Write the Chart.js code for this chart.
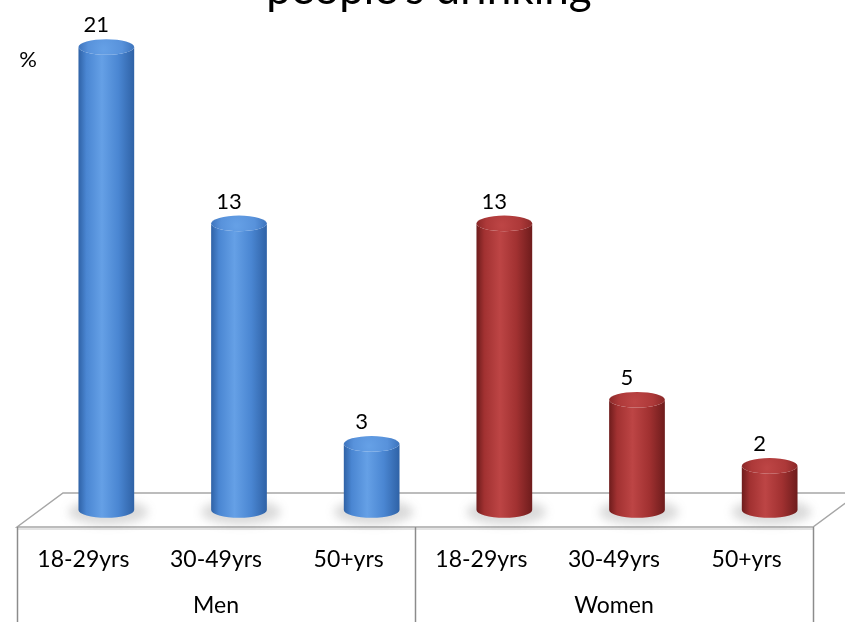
<!DOCTYPE html>
<html>
<head>
<meta charset="utf-8">
<script src="https://cdn.jsdelivr.net/npm/chart.js@4.4.1/dist/chart.umd.min.js"></script>
<style>
  html, body { margin: 0; padding: 0; background: #ffffff; }
  #wrap { width: 845px; height: 622px; }
</style>
</head>
<body>
<div id="wrap"><canvas id="c" width="845" height="622"></canvas></div>
<script>
// ---- data ----
const chartTitle = "people's drinking";
const unitLabel = '%';
const ageGroups = ['18-29yrs', '30-49yrs', '50+yrs', '18-29yrs', '30-49yrs', '50+yrs'];
const sexGroups = ['Men', 'Women'];
const menValues = [21, 13, 3];
const womenValues = [13, 5, 2];

// ---- look ----
const FONT = 'Lato, "Open Sans", sans-serif';
const FLOOR_DX = 23;   // half of the floor depth, horizontally
const FLOOR_DY = 17;   // half of the floor depth, vertically
const palettes = {
  Men:   { edge: '#2f62a6', body: '#4a86d2', light: '#65a0e6', cap: '#5892db', rim: '#3d74bd' },
  Women: { edge: '#6e1c1c', body: '#a13131', light: '#bd4545', cap: '#ad3939', rim: '#8a2828' }
};

// Men occupy the first three categories, Women the last three
const menSeries = [...menValues, ...womenValues.map(() => null)];
const womenSeries = [...menValues.map(() => null), ...womenValues];

function drawCylinder(ctx, x, top, base, w, pal) {
  const rx = w / 2;
  const ry = w * 0.14;

  // soft shadow on the floor
  ctx.save();
  ctx.filter = 'blur(5px)';
  ctx.fillStyle = 'rgba(70,70,70,0.20)';
  ctx.beginPath();
  ctx.ellipse(x + 2, base + 2, rx + 12, ry + 5, 0, 0, Math.PI * 2);
  ctx.fill();
  ctx.restore();

  // body
  const g = ctx.createLinearGradient(x - rx, 0, x + rx, 0);
  g.addColorStop(0, pal.edge);
  g.addColorStop(0.14, pal.body);
  g.addColorStop(0.42, pal.light);
  g.addColorStop(0.72, pal.body);
  g.addColorStop(1, pal.edge);
  ctx.save();
  ctx.fillStyle = g;
  ctx.beginPath();
  ctx.moveTo(x - rx, top);
  ctx.lineTo(x - rx, base);
  ctx.ellipse(x, base, rx, ry, 0, Math.PI, 0, true);
  ctx.lineTo(x + rx, top);
  ctx.ellipse(x, top, rx, ry, 0, 0, Math.PI, false);
  ctx.closePath();
  ctx.fill();

  // cap
  const cg = ctx.createRadialGradient(x - rx * 0.1, top + ry * 0.3, 1, x, top, rx);
  cg.addColorStop(0, pal.light);
  cg.addColorStop(0.6, pal.cap);
  cg.addColorStop(1, pal.rim);
  ctx.fillStyle = cg;
  ctx.beginPath();
  ctx.ellipse(x, top, rx, ry, 0, 0, Math.PI * 2);
  ctx.fill();
  ctx.restore();
}

const cylinderPlugin = {
  id: 'cylinders',
  beforeDatasetsDraw(chart) {
    const { ctx, chartArea: a, scales } = chart;
    const base = scales.y.getPixelForValue(0);
    const frontY = base + FLOOR_DY, backY = base - FLOOR_DY;
    const fl = a.left - FLOOR_DX, fr = a.right - FLOOR_DX;
    const bl = a.left + FLOOR_DX, br = a.right + FLOOR_DX;
    ctx.save();
    // floor
    ctx.fillStyle = '#ffffff';
    ctx.strokeStyle = '#a6a6a6';
    ctx.lineWidth = 1.5;
    ctx.beginPath();
    ctx.moveTo(fl, frontY);
    ctx.lineTo(bl, backY);
    ctx.lineTo(br, backY);
    ctx.lineTo(fr, frontY);
    ctx.closePath();
    ctx.fill();
    ctx.stroke();
    // front edge slab
    ctx.beginPath();
    ctx.moveTo(fl, frontY + 2);
    ctx.lineTo(fr, frontY + 2);
    ctx.strokeStyle = '#c8c8c8';
    ctx.lineWidth = 1;
    ctx.stroke();
    // category table separators
    const n = ageGroups.length;
    const step = (a.right - a.left) / n;
    ctx.strokeStyle = '#8c8c8c';
    ctx.lineWidth = 1.5;
    [0, n / 2, n].forEach(i => {
      const x = Math.round(a.left + step * i - FLOOR_DX) + 0.5;
      ctx.beginPath();
      ctx.moveTo(x, frontY);
      ctx.lineTo(x, chart.height);
      ctx.stroke();
    });
    ctx.restore();
  },
  beforeDatasetDraw(chart, args) {
    const { ctx } = chart;
    const meta = args.meta;
    const pal = palettes[meta.label] || palettes.Men;
    meta.data.forEach((el, i) => {
      const v = chart.data.datasets[args.index].data[i];
      if (v == null) return;
      const p = el.getProps(['x', 'y', 'base', 'width'], true);
      drawCylinder(ctx, p.x, p.y, p.base, p.width, pal);
    });
    return false;
  },
  afterDatasetsDraw(chart) {
    const { ctx } = chart;
    ctx.save();
    ctx.fillStyle = '#000';
    ctx.font = '22px ' + FONT;
    ctx.textAlign = 'center';
    ctx.textBaseline = 'middle';
    chart.data.datasets.forEach((ds, di) => {
      const meta = chart.getDatasetMeta(di);
      meta.data.forEach((el, i) => {
        const v = ds.data[i];
        if (v == null) return;
        const p = el.getProps(['x', 'y'], true);
        ctx.fillText(String(v), p.x - 10, p.y - 22);
      });
    });
    ctx.restore();
  },
  afterDraw(chart) {
    const { ctx } = chart;
    ctx.save();
    ctx.fillStyle = '#000';
    ctx.textAlign = 'center';
    ctx.textBaseline = 'alphabetic';
    ctx.font = '44px ' + FONT;
    ctx.fillText(chartTitle, 429, 4);
    ctx.font = '22px ' + FONT;
    ctx.textBaseline = 'middle';
    ctx.fillText(unitLabel, 28, 60);
    ctx.restore();
  }
};

new Chart(document.getElementById('c'), {
  type: 'bar',
  data: {
    labels: ageGroups,
    datasets: [
      { label: 'Men', data: menSeries, backgroundColor: '#4a86d2', grouped: false },
      { label: 'Women', data: womenSeries, backgroundColor: '#a13131', grouped: false }
    ]
  },
  plugins: [cylinderPlugin],
  options: {
    responsive: false,
    animation: false,
    devicePixelRatio: 1,
    layout: { padding: { left: 40, right: 9, top: 25, bottom: 0 } },
    datasets: { bar: { categoryPercentage: 1, barPercentage: 0.42 } },
    plugins: { legend: { display: false }, title: { display: false }, tooltip: { enabled: false } },
    scales: {
      y: { display: false, min: 0, max: 22 },
      x: {
        type: 'category',
        position: 'bottom',
        weight: 0,
        grid: { display: false, drawTicks: false },
        border: { display: false },
        ticks: { color: '#000', font: { family: FONT, size: 23, lineHeight: 1.2 }, padding: 36, labelOffset: -FLOOR_DX, autoSkip: false, maxRotation: 0 },
        afterFit(scale) { scale.height = 75; }
      },
      x2: {
        type: 'category',
        labels: sexGroups,
        position: 'bottom',
        weight: 1,
        grid: { display: false, drawTicks: false },
        border: { display: false },
        ticks: { color: '#000', font: { family: FONT, size: 23, lineHeight: 1.2 }, padding: 7, labelOffset: -FLOOR_DX, autoSkip: false, maxRotation: 0 },
        afterFit(scale) { scale.height = 37; }
      }
    }
  }
});
</script>
</body>
</html>
